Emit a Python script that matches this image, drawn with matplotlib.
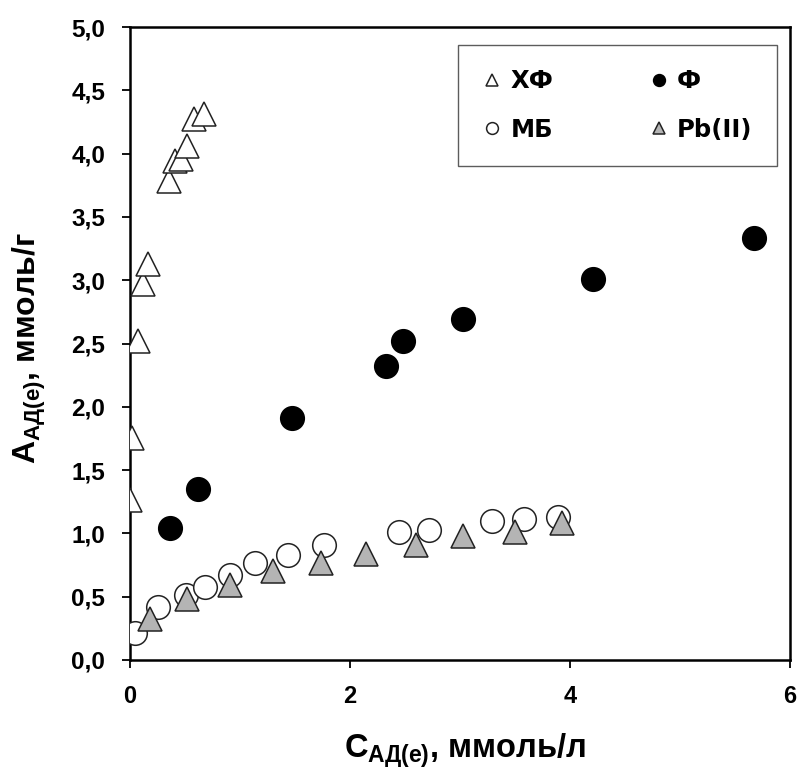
import numpy as np
import matplotlib
matplotlib.use('Agg')
import matplotlib.pyplot as plt

plt.rcParams['font.family'] = ['Liberation Sans', 'DejaVu Sans']
plt.rcParams['font.weight'] = 'bold'
plt.rcParams['mathtext.fontset'] = 'custom'
plt.rcParams['mathtext.rm'] = 'Liberation Sans:bold'
plt.rcParams['mathtext.bf'] = 'Liberation Sans:bold'
plt.rcParams['mathtext.it'] = 'Liberation Sans:bold'

# ХФ
hf_x = [0.00, 0.02, 0.07, 0.12, 0.16, 0.355, 0.41, 0.46, 0.52, 0.58, 0.67]
hf_y = [1.26, 1.75, 2.52, 2.97, 3.13, 3.78, 3.94, 3.96, 4.06, 4.27, 4.31]

# Ф
f_x = [0.36, 0.62, 1.47, 2.33, 2.48, 3.03, 4.21, 5.67]
f_y = [1.04, 1.35, 1.91, 2.32, 2.52, 2.69, 3.01, 3.33]

# МБ
mb_x = [0.045, 0.25, 0.51, 0.68, 0.91, 1.14, 1.44, 1.76, 2.45, 2.72, 3.29, 3.58, 3.89]
mb_y = [0.21, 0.42, 0.51, 0.58, 0.67, 0.77, 0.83, 0.91, 1.01, 1.03, 1.10, 1.11, 1.13]

# Pb(II)
pb_x = [0.18, 0.52, 0.91, 1.30, 1.74, 2.15, 2.60, 3.03, 3.50, 3.93]
pb_y = [0.32, 0.48, 0.59, 0.70, 0.77, 0.84, 0.91, 0.98, 1.01, 1.08]

x_ticks = [0, 2, 4, 6]
y_ticks = np.arange(0, 5.01, 0.5)
y_ticklabels = ['0,0', '0,5', '1,0', '1,5', '2,0', '2,5', '3,0', '3,5', '4,0', '4,5', '5,0']

fig = plt.figure(figsize=(7.99, 7.69), dpi=100)
ax = fig.add_axes([130/799, 1 - 660/769, 660/799, 633/769])

ms = 17
mew = 1.1
l_hf, = ax.plot(hf_x, hf_y, '^', ms=ms, mfc='white', mec='#222222', mew=mew, ls='none', label='ХФ', zorder=3)
l_f, = ax.plot(f_x, f_y, 'o', ms=ms, mfc='black', mec='black', mew=mew, ls='none', label='Ф', zorder=3)
l_mb, = ax.plot(mb_x, mb_y, 'o', ms=ms, mfc='white', mec='#222222', mew=mew, ls='none', label='МБ', zorder=3)
l_pb, = ax.plot(pb_x, pb_y, '^', ms=ms, mfc='#b4b4b4', mec='#222222', mew=mew, ls='none', label='Pb(II)', zorder=4)

ax.set_xlim(0, 6)
ax.set_ylim(0, 5)
ax.set_xticks(x_ticks)
ax.set_xticklabels([str(t) for t in x_ticks], fontsize=17, fontweight='bold')
ax.set_yticks(y_ticks)
ax.set_yticklabels(y_ticklabels, fontsize=17.5, fontweight='bold')
ax.tick_params(direction='out', length=5.8, width=1.3)
ax.tick_params(axis='y', pad=12)
ax.tick_params(axis='x', pad=12)

for s in ax.spines.values():
    s.set_linewidth(1.8)

ax.set_xlabel(r'C$_{\mathbf{АД(е)}}$, ммоль/л', fontsize=23.5, fontweight='bold')
ax.xaxis.set_label_coords(0.508, -0.113)
ax.xaxis.label.set_va('top')
ax.set_ylabel(r'A$_{\mathbf{АД(е)}}$, ммоль/г', fontsize=23, fontweight='bold')
ax.yaxis.set_label_coords(-0.124, 0.493)

# row-major order like the original: ХФ, Ф / МБ, Pb(II)
leg = ax.legend([l_hf, l_mb, l_f, l_pb], ['ХФ', 'МБ', 'Ф', 'Pb(II)'],
                ncol=2, loc='upper left', bbox_to_anchor=(0.497, 0.7836, 0.483, 0.188),
                mode='expand', borderaxespad=0, markerscale=0.5,
                prop={'family': 'DejaVu Sans', 'weight': 'bold', 'size': 17.5},
                handlelength=0.8, handletextpad=0.35, columnspacing=1.0,
                labelspacing=1.0, borderpad=1.0, fancybox=False, frameon=True)
leg.get_frame().set_edgecolor('#333333')
leg.get_frame().set_linewidth(1.0)

fig.savefig('out.png', dpi=100)
